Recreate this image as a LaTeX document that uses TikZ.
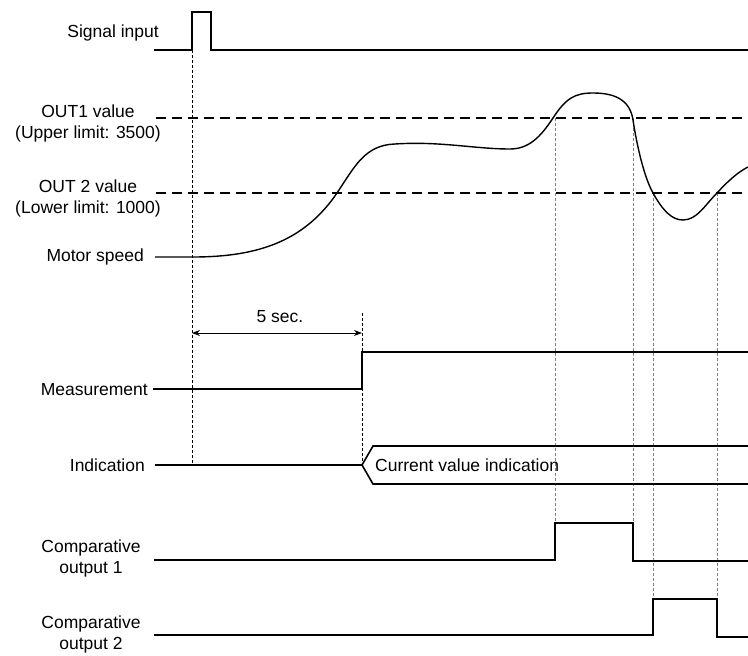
\documentclass[tikz,border=0pt]{standalone}
\usepackage{fontspec}
\setmainfont{Liberation Sans}
\usetikzlibrary{arrows.meta, positioning}

\begin{document}
\begin{tikzpicture}[x=1pt, y=-1pt,
    wave/.style={line width=1.6pt, line join=miter},
    limit/.style={line width=1.6pt, dash pattern=on 10pt off 6pt},
    guide/.style={line width=0.8pt, dash pattern=on 3pt off 2pt},
    lbl/.style={font=\fontsize{17.5}{21}\selectfont, align=center, inner sep=0pt}]
    \useasboundingbox (0,0) rectangle (748,656);

    % Row labels
    \node[lbl, anchor=east] (sig) at (159,33) {Signal input};
    \node[lbl] (out1) at (88,123) {OUT1 value\\(Upper limit: 3500)};
    \node[lbl] (out2) at (88,198) {OUT 2 value\\(Lower limit: 1000)};
    \node[lbl, anchor=east] (motor) at (144,257) {Motor speed};
    \node[lbl, anchor=east] (meas) at (148,390) {Measurement};
    \node[lbl, anchor=east] (ind) at (145,465) {Indication};
    \node[lbl] (co1) at (91,558) {Comparative\\output 1};
    \node[lbl] (co2) at (91,634) {Comparative\\output 2};

    % Time marks
    \coordinate (t0) at (192,333);
    \coordinate (t5) at (362,333);

    % Guide lines
    \draw[guide] (192,50) -- (192,465);
    \draw[guide] (362,313) -- (362,465);
    \foreach \x/\a/\b in {555/118/523, 633/118/523, 653/193/599, 717/193/599} {
        \draw[guide, gray] (\x,\a) -- (\x,\b);
    }

    % Signal input pulse
    \draw[wave] (154,50) -| (192,12) -| (211,50) -- (748,50);

    % Limit values
    \draw[limit] (156,118) -- (748,118);
    \draw[limit] (156,193) -- (748,193);

    % Motor speed curve
    \draw[line width=1.4pt] (155,257) -- (193,257)
        .. controls (260,257) and (305,240) .. (337,193)
        .. controls (355,166) and (365,145) .. (395,144)
        .. controls (440,141) and (475,149) .. (510,149)
        .. controls (528,149) and (540,138) .. (553,118)
        .. controls (566,98) and (575,93) .. (593,93)
        .. controls (615,93) and (630,100) .. (633,120)
        .. controls (636,140) and (643,175) .. (653,193)
        .. controls (663,211) and (672,220) .. (683,220)
        .. controls (697,220) and (705,205) .. (717,193)
        .. controls (728,181) and (738,172) .. (748,167);

    % 5 s delay
    \draw[{Stealth[length=8pt, width=6pt]}-{Stealth[length=8pt, width=6pt]}, line width=0.8pt]
        (t0) -- (t5);
    \node[lbl] (delay) at (280,317) {5 sec.};

    % Measurement
    \draw[wave] (153,389) -- (362,389) -- (362,352) -- (748,352);

    % Indication
    \draw[wave] (155,465) -- (362,465) -- (373,446) -- (748,446);
    \draw[wave] (362,465) -- (373,484) -- (748,484);
    \node[lbl, anchor=west] (cur) at (375,465) {Current value indication};

    % Comparative outputs
    \draw[wave] (154,560) -| (555,523) -| (633,561) -- (748,561);
    \draw[wave] (154,635) -| (653,599) -| (717,637) -- (748,637);
\end{tikzpicture}
\end{document}
